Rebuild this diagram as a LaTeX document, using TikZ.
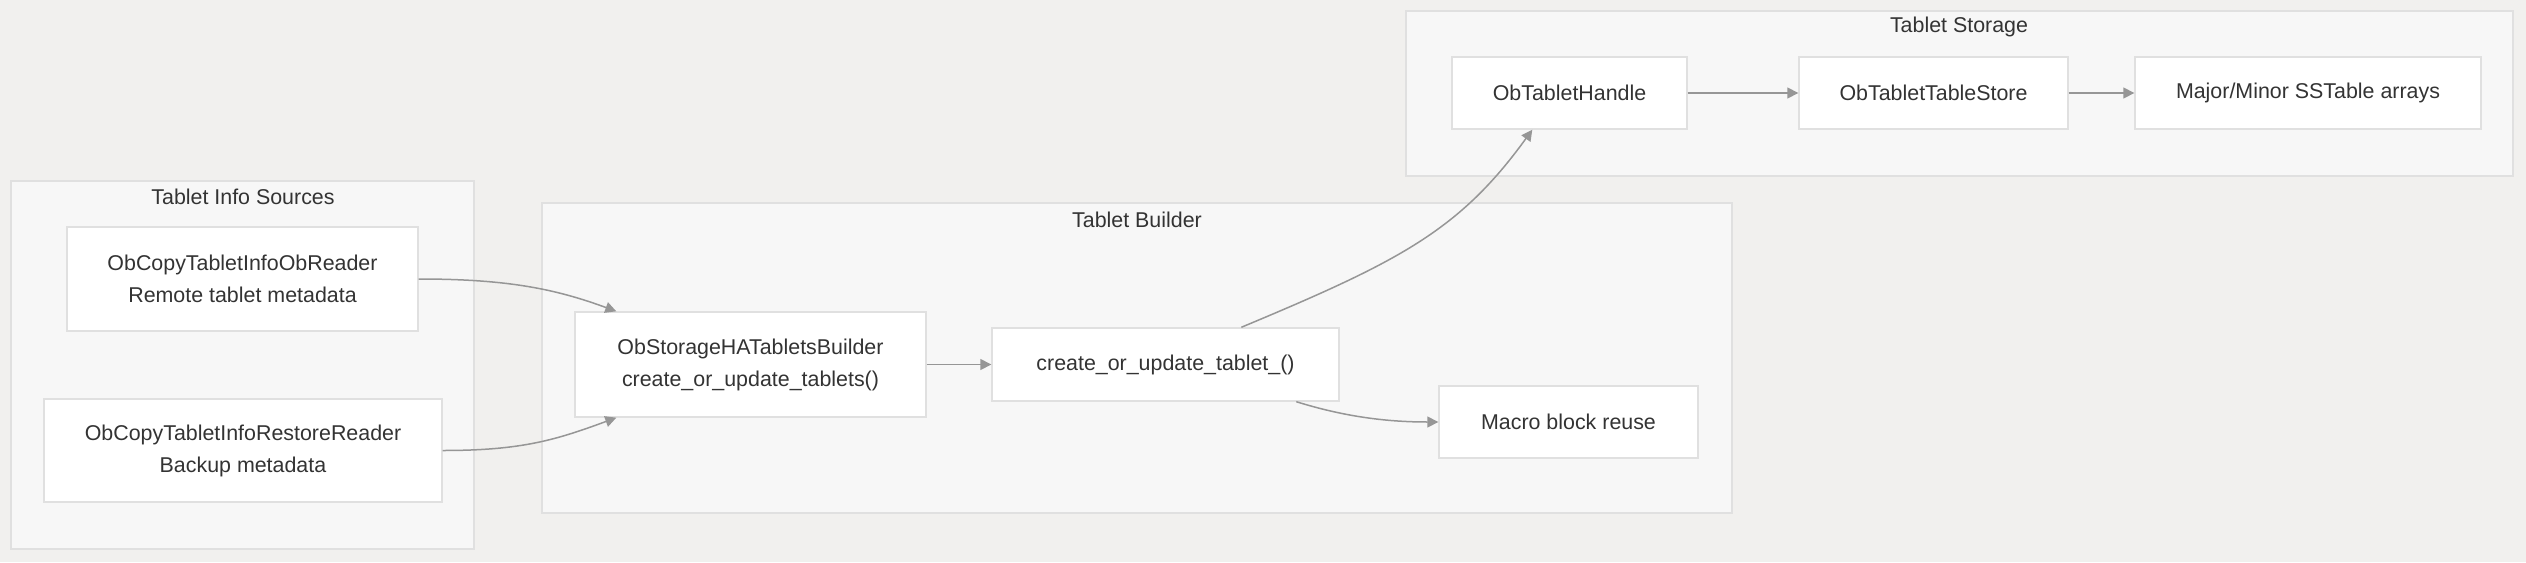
\documentclass[tikz,border=0pt]{standalone}
\usepackage{fontspec}
\setmainfont{Liberation Sans}
\usetikzlibrary{calc,arrows.meta}

\definecolor{bgcol}{RGB}{241,240,238}
\definecolor{grpfill}{RGB}{247,247,247}
\definecolor{grpline}{RGB}{224,224,224}
\definecolor{boxline}{RGB}{224,224,224}
\definecolor{edgecol}{RGB}{150,150,150}
\definecolor{txt}{RGB}{51,51,51}

\begin{document}
\begin{tikzpicture}[x=0.5pt,y=-0.5pt,
  font=\fontsize{10.7}{16}\selectfont,
  box/.style={draw=boxline,fill=white,line width=0.7pt,align=center,text=txt,inner sep=0pt},
  group/.style={draw=grpline,fill=grpfill,line width=0.8pt},
  grouptitle/.style={text=txt,inner sep=0pt},
  flow/.style={draw=edgecol,line width=0.75pt,-{Triangle[length=5.5pt,width=5.5pt]}}]
  \useasboundingbox[fill=bgcol] (0,0) rectangle (2526,562);

  % groups
  \draw[group] (11,181) rectangle (474,549);
  \draw[group] (542,203) rectangle (1732,513);
  \draw[group] (1406,11) rectangle (2513,176);
  \node[grouptitle] (srctitle) at (243,197) {Tablet Info Sources};
  \node[grouptitle] (buildtitle) at (1137,220) {Tablet Builder};
  \node[grouptitle] (storetitle) at (1959,27) {Tablet Storage};

  % sources
  \node[box,minimum width=175.5pt,minimum height=52pt] (obreader) at (242.5,279) {ObCopyTabletInfoObReader\\Remote tablet metadata};
  \node[box,minimum width=199pt,minimum height=51.5pt] (restore) at (243,450.5) {ObCopyTabletInfoRestoreReader\\Backup metadata};

  % builder
  \node[box,minimum width=175.5pt,minimum height=52.5pt] (habuilder) at (750.5,364.5) {ObStorageHATabletsBuilder\\create\_or\_update\_tablets()};
  \node[box,minimum width=173.5pt,minimum height=36.5pt] (tablet) at (1165.5,364.5) {create\_or\_update\_tablet\_()};
  \node[box,minimum width=129.5pt,minimum height=36pt] (macro) at (1568.5,422) {Macro block reuse};

  % storage
  \node[box,minimum width=117.5pt,minimum height=36pt] (handle) at (1569.5,93) {ObTabletHandle};
  \node[box,minimum width=134.5pt,minimum height=36pt] (tablestore) at (1933.5,93) {ObTabletTableStore};
  \node[box,minimum width=173pt,minimum height=36pt] (sstable) at (2308,93) {Major/Minor SSTable arrays};

  % edges
  \draw[flow] (obreader.east) .. controls +(90,0) and +(-60,-22) .. ([xshift=21pt]habuilder.north west);
  \draw[flow] (restore.east) .. controls +(80,0) and +(-60,22) .. ([xshift=21pt]habuilder.south west);
  \draw[flow] (habuilder) -- (tablet);
  \draw[flow] ([xshift=125pt]tablet.north west) .. controls +(158,-66) and +(-73,101) .. ([xshift=40.5pt]handle.south west);
  \draw[flow] ([xshift=152.5pt]tablet.south west) .. controls +(45,14) and +(-55,0) .. (macro.west);
  \draw[flow] (handle) -- (tablestore);
  \draw[flow] (tablestore) -- (sstable);
\end{tikzpicture}
\end{document}
